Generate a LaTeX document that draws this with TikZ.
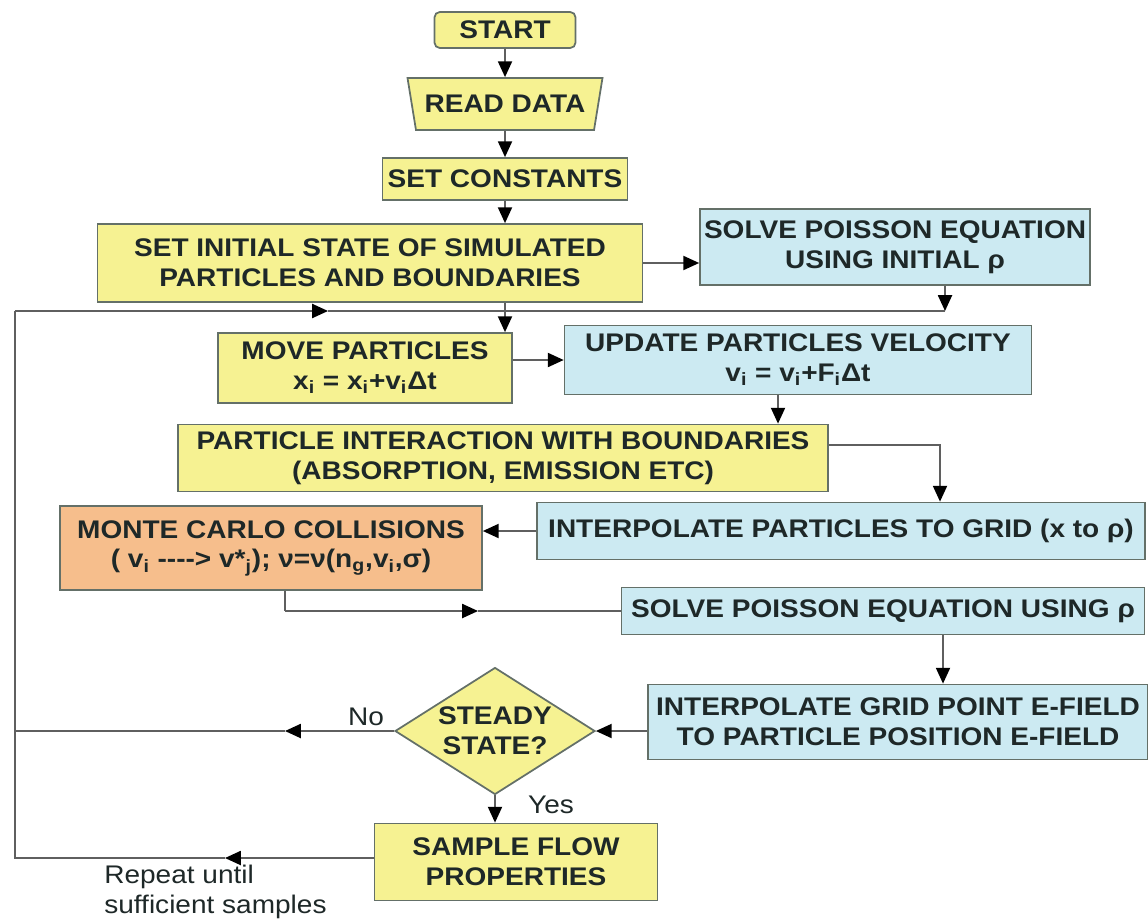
\documentclass[tikz,border=0pt]{standalone}
\usepackage{fontspec}
\setmainfont{Liberation Sans}[FakeStretch=1.1]
\usetikzlibrary{shapes.geometric,arrows.meta}
\definecolor{boxyellow}{RGB}{246,242,146}
\definecolor{boxblue}{RGB}{204,234,242}
\definecolor{boxorange}{RGB}{246,190,140}
\definecolor{boxline}{RGB}{100,112,104}
\definecolor{flowline}{RGB}{95,95,95}
\definecolor{txt}{RGB}{30,40,40}
\newcommand{\sub}[1]{\textsubscript{#1}}

\begin{document}
\begin{tikzpicture}[x=0.02cm, y=-0.02cm, >={Triangle[length=9pt,width=8pt,color=black]},
    every node/.style={text=txt, font=\fontsize{14.5}{17}\selectfont},
    box/.style={draw=boxline, line width=1pt, align=center, inner sep=2pt, font=\fontsize{14.5}{17}\selectfont\bfseries},
    yel/.style={box, fill=boxyellow},
    blu/.style={box, fill=boxblue},
    ora/.style={box, fill=boxorange},
    flow/.style={draw=flowline, line width=1pt}]
      \useasboundingbox (0,0) rectangle (1148,923);
      % main column
      \node [yel, rounded corners=3pt, minimum width=2.82cm, minimum height=0.72cm] (start) at (505,30) {START};
      \node [yel, trapezium, trapezium left angle=71, trapezium right angle=71, shape border rotate=180,
             trapezium stretches body, minimum width=3.9cm, minimum height=1.04cm] (read) at (505,104) {READ DATA};
      \node [yel, minimum width=4.9cm, minimum height=0.84cm] (const) at (505,179) {SET CONSTANTS};
      \node [yel, minimum width=10.9cm, minimum height=1.56cm] (init) at (370,263) {SET INITIAL STATE OF SIMULATED\\PARTICLES AND BOUNDARIES};
      \node [blu, minimum width=7.8cm, minimum height=1.52cm] (solve0) at (895,247) {SOLVE POISSON EQUATION\\USING INITIAL ρ};
      \node [yel, minimum width=5.88cm, minimum height=1.4cm] (move) at (365,368) {MOVE PARTICLES\\x\sub{i} = x\sub{i}+v\sub{i}Δt};
      \node [blu, minimum width=9.34cm, minimum height=1.38cm] (update) at (798,360) {UPDATE PARTICLES VELOCITY\\v\sub{i} = v\sub{i}+F\sub{i}Δt};
      \node [yel, minimum width=13cm, minimum height=1.34cm] (interact) at (503,458) {PARTICLE INTERACTION WITH BOUNDARIES\\(ABSORPTION, EMISSION ETC)};
      \node [blu, minimum width=12.16cm, minimum height=1.14cm] (interp) at (841,531) {INTERPOLATE PARTICLES TO GRID (x to ρ)};
      \node [ora, minimum width=8.44cm, minimum height=1.68cm] (mcc) at (271,548) {MONTE CARLO COLLISIONS\\( v\sub{i} -\kern0pt-\kern0pt-\kern0pt-> v*\sub{j}); ν=ν(n\sub{g},v\sub{i},σ)};
      \node [blu, minimum width=10.46cm, minimum height=0.94cm] (solve) at (883,611) {SOLVE POISSON EQUATION USING ρ};
      \node [blu, minimum width=10cm, minimum height=1.5cm] (efield) at (898,722) {INTERPOLATE GRID POINT E-FIELD\\TO PARTICLE POSITION E-FIELD};
      \node [yel, diamond, aspect=1.57, inner sep=0pt, minimum width=4cm, minimum height=2.54cm] (steady) at (495,731) {STEADY\\STATE?};
      \node [yel, minimum width=5.66cm, minimum height=1.54cm] (sample) at (516,862) {SAMPLE FLOW\\PROPERTIES};
      % labels
      \node (no) at (366,717) {No};
      \node (yes) at (551,805) {Yes};
      \node [anchor=north west, align=left, inner sep=0pt] (repeat) at (104,865) {Repeat until\\sufficient samples};
      % bends and mid arrows
      \coordinate (join) at (505,311);
      \coordinate (loop) at (15,311);
      \coordinate (looptip) at (328,311);
      \coordinate (s0drop) at (945,311);
      \coordinate (updrop) at (778,395);
      \coordinate (bend) at (940,445);
      \coordinate (mccdrop) at (285,611);
      \coordinate (mcctip) at (478,611);
      \coordinate (soldrop) at (943,660);
      \coordinate (notip) at (285,731);
      \coordinate (loopend) at (15,858);
      \coordinate (reptip) at (225,858);
      % connectors
      \draw [flow, ->] (start) -- (read);
      \draw [flow, ->] (read) -- (const);
      \draw [flow, ->] (const.south) -- (const.south |- init.north);
      \draw [flow, ->] (init.east) -- (init.east -| solve0.west);
      \draw [flow, ->] (solve0.south -| s0drop) -- (s0drop);
      \draw [flow] (s0drop) -- (join);
      \draw [flow, ->] (loop) -- (looptip);
      \draw [flow] (looptip) -- (join);
      \draw [flow, ->] (init.south -| join) -- (join |- move.north);
      \draw [flow, ->] (update.west -| move.east) -- (update.west);
      \draw [flow, ->] (update.south -| updrop) -- (updrop |- interact.north);
      \draw [flow, ->] (interact.east |- bend) -- (bend) -- (bend |- interp.north);
      \draw [flow, ->] (interp.west) -- (interp.west -| mcc.east);
      \draw [flow] (mcc.south -| mccdrop) -- (mccdrop);
      \draw [flow, ->] (mccdrop) -- (mcctip);
      \draw [flow] (mcctip) -- (solve.west |- mccdrop);
      \draw [flow, ->] (solve.south -| soldrop) -- (soldrop |- efield.north);
      \draw [flow, ->] (steady.east -| efield.west) -- (steady.east);
      \draw [flow, ->] (steady.west) -- (notip);
      \draw [flow] (notip) -- (steady.west -| loop);
      \draw [flow, ->] (steady.south) -- (steady.south |- sample.north);
      \draw [flow, ->] (sample.west |- loopend) -- (reptip);
      \draw [flow] (reptip) -- (loopend) -- (loop);
    \end{tikzpicture}
\end{document}
